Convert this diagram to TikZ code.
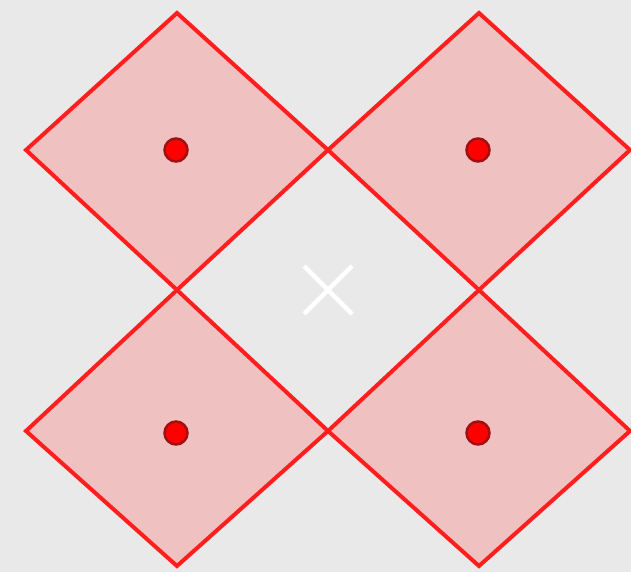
\documentclass[tikz,border=0pt]{standalone}
\definecolor{bg}{HTML}{E9E9E9}
\definecolor{dfill}{HTML}{EFC1C1}
\definecolor{dline}{HTML}{FF1E1E}
\definecolor{dotfill}{HTML}{FF0000}
\definecolor{dotline}{HTML}{A01010}
\tikzset{
  tile/.style={draw=dline, fill=dfill, line width=4pt, line join=miter},
  pt/.style={circle, fill=dotfill, draw=dotline, line width=2.5pt, inner sep=0pt, minimum size=23pt},
  cross/.style={draw=white, line width=4.5pt}
}
\begin{document}
\begin{tikzpicture}[x=1pt,y=-1pt]
\fill[bg] (0,0) rectangle (631,572);
\useasboundingbox (0,0) rectangle (631,572);
% vertices
\coordinate (TL) at (177,13);
\coordinate (TR) at (479,13);
\coordinate (L1) at (26,150);
\coordinate (M1) at (328,150);
\coordinate (R1) at (630,150);
\coordinate (B1) at (177,290);
\coordinate (B2) at (479,290);
\coordinate (L2) at (26,431);
\coordinate (M2) at (328,431);
\coordinate (R2) at (630,431);
\coordinate (BL) at (177,566);
\coordinate (BR) at (479,566);
\path[tile] (TL) -- (M1) -- (B1) -- (L1) -- cycle;
\path[tile] (TR) -- (R1) -- (B2) -- (M1) -- cycle;
\path[tile] (B1) -- (M2) -- (BL) -- (L2) -- cycle;
\path[tile] (B2) -- (R2) -- (BR) -- (M2) -- cycle;
\node[pt] (p1) at (176,150) {};
\node[pt] (p2) at (478,150) {};
\node[pt] (p3) at (176,433) {};
\node[pt] (p4) at (478,433) {};
\coordinate (X) at (328,290);
\draw[cross] ([shift={(-24,-24)}]X) -- ([shift={(24,24)}]X);
\draw[cross] ([shift={(-24,24)}]X) -- ([shift={(24,-24)}]X);
\end{tikzpicture}
\end{document}
